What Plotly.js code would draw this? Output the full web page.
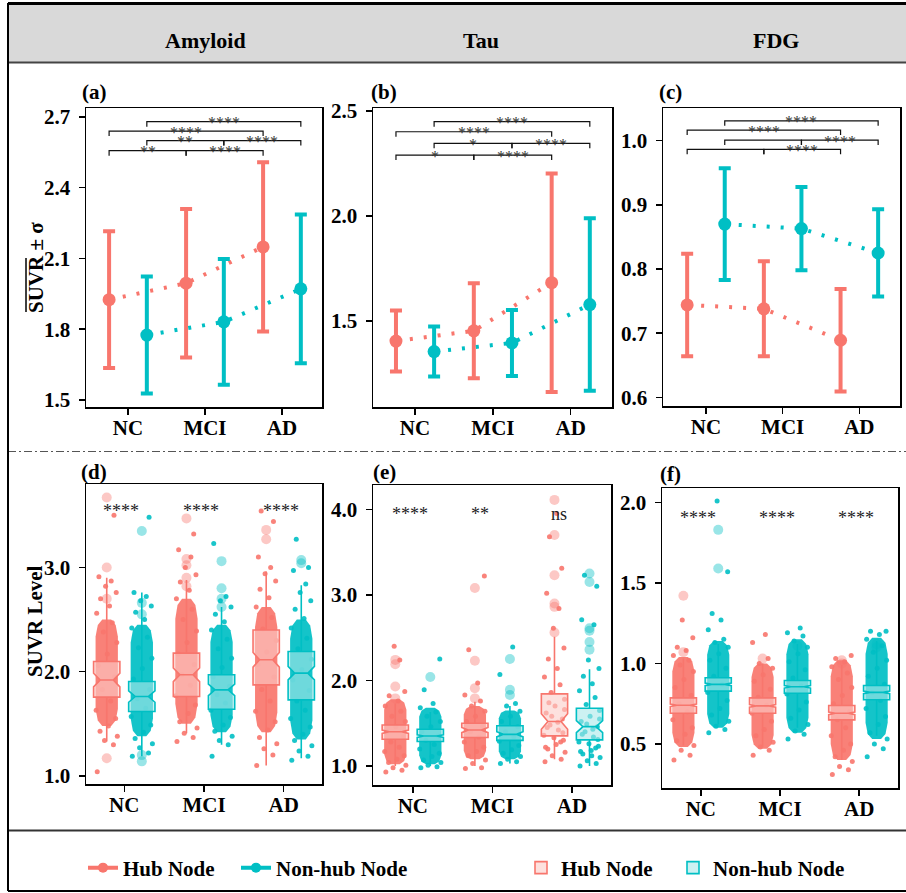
<!DOCTYPE html>
<html><head><meta charset="utf-8">
<script src="https://cdn.plot.ly/plotly-3.0.1.min.js"></script>
<style>html,body{margin:0;padding:0;background:#fff}</style>
</head><body><div id="chart" style="width:906px;height:893px"></div>
<script>
// ---------------- DATA ----------------
const categories = ['NC', 'MCI', 'AD'];
const nodeNames = ['Hub Node', 'Non-hub Node'];

// (a)-(c): mean SUVR and SD
const amyloidMeanHub = [1.925, 1.995, 2.149];
const amyloidSdHub   = [0.290, 0.315, 0.359];
const amyloidMeanNon = [1.775, 1.831, 1.971];
const amyloidSdNon   = [0.248, 0.267, 0.315];
const tauMeanHub = [1.404, 1.453, 1.682];
const tauSdHub   = [0.145, 0.226, 0.520];
const tauMeanNon = [1.354, 1.395, 1.578];
const tauSdNon   = [0.119, 0.157, 0.411];
const fdgMeanHub = [0.744, 0.738, 0.689];
const fdgSdHub   = [0.080, 0.074, 0.080];
const fdgMeanNon = [0.870, 0.863, 0.825];
const fdgSdNon   = [0.087, 0.065, 0.068];

// pairwise comparison brackets (category indices, node 0 = hub, 1 = non-hub)
const bracketCatFrom = [0, 0, 0, 1, 0, 1];
const bracketCatTo   = [2, 2, 1, 2, 1, 2];
const bracketNode    = [1, 0, 1, 1, 0, 0];
const amyloidBracketY = [2.680, 2.640, 2.600, 2.600, 2.557, 2.557];
const amyloidBracketLabel = ['****', '****', '**', '****', '**', '****'];
const tauBracketY = [2.449, 2.401, 2.346, 2.346, 2.290, 2.290];
const tauBracketLabel = ['****', '****', '*', '****', '*', '****'];
const fdgBracketY = [1.031, 1.0166, 1.001, 1.001, 0.9866, 0.9866];
const fdgBracketLabel = ['****', '****', '', '****', '', '****'];

// tick values
const amyloidTicks = [1.5, 1.8, 2.1, 2.4, 2.7];
const tauTicks = [1.5, 2.0, 2.5];
const fdgTicks = [0.6, 0.7, 0.8, 0.9, 1.0];
const amyloidLevelTicks = [1.0, 2.0, 3.0];
const tauLevelTicks = [1.0, 2.0, 3.0, 4.0];
const fdgLevelTicks = [0.5, 1.0, 1.5, 2.0];

// (d) Amyloid box statistics (NC, MCI, AD)
const amyHubQ1 = [1.756, 1.762, 1.874];
const amyHubMedian = [1.920, 1.970, 2.114];
const amyHubQ3 = [2.098, 2.178, 2.400];
const amyHubLower = [1.330, 1.410, 1.100];
const amyHubUpper = [2.900, 2.880, 2.960];
const amyHubNotch = [0.065, 0.065, 0.070];
const amyNonQ1 = [1.618, 1.640, 1.730];
const amyNonMedian = [1.762, 1.826, 1.986];
const amyNonQ3 = [1.906, 1.970, 2.194];
const amyNonLower = [1.190, 1.300, 1.170];
const amyNonUpper = [2.760, 2.620, 2.830];
const amyNonNotch = [0.055, 0.055, 0.065];
const amyHubDenseLo = [1.48, 1.50, 1.42];
const amyHubDenseHi = [2.50, 2.70, 2.62];
const amyNonDenseLo = [1.38, 1.42, 1.35];
const amyNonDenseHi = [2.45, 2.45, 2.50];
const amyHubPtsNC  = [1.04, 1.30, 1.34, 1.38, 1.43, 1.48, 1.55, 1.63, 1.72, 1.83, 1.95, 2.06, 2.17, 2.28, 2.38, 2.47, 2.56, 2.63, 2.70, 2.76, 2.82, 2.87, 2.91, 3.50];
const amyHubPtsMCI = [1.33, 1.37, 1.41, 1.46, 1.52, 1.60, 1.68, 1.77, 1.87, 1.97, 2.07, 2.17, 2.28, 2.39, 2.50, 2.60, 2.70, 2.78, 2.86, 2.93, 3.00, 3.10, 3.17, 3.32];
const amyHubPtsAD  = [1.10, 1.20, 1.26, 1.31, 1.37, 1.44, 1.52, 1.62, 1.72, 1.83, 1.95, 2.07, 2.19, 2.30, 2.41, 2.52, 2.62, 2.71, 2.79, 2.87, 2.94, 3.00, 3.10, 3.44, 3.54];
const amyNonPtsNC  = [1.19, 1.22, 1.27, 1.31, 1.36, 1.42, 1.49, 1.57, 1.65, 1.74, 1.83, 1.93, 2.03, 2.13, 2.23, 2.33, 2.42, 2.50, 2.57, 2.63, 2.68, 2.72, 2.76, 3.48];
const amyNonPtsMCI = [1.19, 1.30, 1.34, 1.38, 1.43, 1.49, 1.56, 1.63, 1.70, 1.78, 1.86, 1.95, 2.04, 2.13, 2.22, 2.31, 2.40, 2.48, 2.55, 2.62, 2.68, 2.72, 3.23];
const amyNonPtsAD  = [1.15, 1.19, 1.24, 1.29, 1.34, 1.40, 1.47, 1.55, 1.63, 1.72, 1.82, 1.92, 2.02, 2.12, 2.22, 2.32, 2.42, 2.51, 2.60, 2.68, 2.76, 2.84, 2.97, 3.00, 3.27];
const amyHubOutNC  = [3.67, 3.00, 2.70, 1.17];
const amyHubOutMCI = [3.47, 3.08, 3.02, 2.90, 2.82];
const amyHubOutAD  = [3.36, 3.27];
const amyNonOutNC  = [3.35, 2.66, 2.55, 1.20, 1.14];
const amyNonOutMCI = [3.06, 2.80, 2.70, 2.62];
const amyNonOutAD  = [3.07, 3.04];
const amyTestY = [3.54, 3.54, 3.54];
const amyTestLabel = ['****', '****', '****'];

// (e) Tau box statistics
const tauHubQ1 = [1.313, 1.333, 1.352];
const tauHubMedian = [1.400, 1.420, 1.520];
const tauHubQ3 = [1.480, 1.500, 1.843];
const tauHubLower = [1.000, 1.000, 1.080];
const tauHubUpper = [1.730, 1.750, 2.510];
const tauHubNotch = [0.020, 0.030, 0.090];
const tauNonQ1 = [1.286, 1.300, 1.305];
const tauNonMedian = [1.350, 1.370, 1.460];
const tauNonQ3 = [1.430, 1.470, 1.675];
const tauNonLower = [1.000, 1.030, 1.000];
const tauNonUpper = [1.630, 1.700, 2.130];
const tauNonNotch = [0.015, 0.030, 0.070];
const tauHubDenseLo = [1.02, 1.08, null];
const tauHubDenseHi = [1.78, 1.70, null];
const tauNonDenseLo = [1.02, 1.08, null];
const tauNonDenseHi = [1.68, 1.65, null];
const tauHubPtsNC  = [0.93, 0.95, 0.98, 1.01, 1.04, 1.08, 1.12, 1.17, 1.22, 1.28, 1.34, 1.40, 1.46, 1.52, 1.58, 1.64, 1.70, 1.76, 1.82, 1.87, 2.40, 2.24];
const tauHubPtsMCI = [0.97, 0.98, 1.03, 1.07, 1.12, 1.17, 1.22, 1.28, 1.34, 1.40, 1.46, 1.52, 1.58, 1.64, 1.70, 1.76, 1.83, 1.97, 2.36, 3.22];
const tauHubPtsAD  = [1.05, 1.08, 1.12, 1.16, 1.20, 1.25, 1.30, 1.36, 1.42, 1.48, 1.55, 1.62, 1.70, 1.78, 1.86, 1.95, 2.04, 2.14, 2.25, 2.38, 2.61, 2.84, 3.02, 3.31, 3.68, 3.95, 1.22, 1.28, 1.33, 1.39, 1.45, 1.51, 1.58, 1.66, 1.74];
const tauNonPtsNC  = [0.98, 0.99, 1.01, 1.04, 1.07, 1.11, 1.15, 1.20, 1.25, 1.30, 1.35, 1.40, 1.46, 1.52, 1.58, 1.63, 1.68, 1.73, 1.89, 2.25];
const tauNonPtsMCI = [1.03, 1.05, 1.08, 1.11, 1.15, 1.19, 1.24, 1.29, 1.34, 1.40, 1.46, 1.52, 1.58, 1.64, 1.70, 1.73, 2.07, 2.39];
const tauNonPtsAD  = [1.00, 1.03, 1.06, 1.10, 1.14, 1.18, 1.23, 1.28, 1.34, 1.40, 1.46, 1.52, 1.58, 1.65, 1.72, 1.80, 1.88, 1.96, 2.05, 2.14, 2.24, 2.65, 2.71, 3.10, 3.23, 1.12, 1.17, 1.21, 1.26, 1.31, 1.37, 1.43, 1.49, 1.55];
const tauHubOutNC  = [2.24, 2.19, 1.93, 1.79];
const tauHubOutMCI = [3.08, 2.23, 1.91, 1.79];
const tauHubOutAD  = [4.11, 3.70, 3.23, 2.90, 2.86, 2.56];
const tauNonOutNC  = [2.04];
const tauNonOutMCI = [2.25, 1.89, 1.83];
const tauNonOutAD  = [3.25, 3.15, 2.61, 2.58, 2.45, 2.36];
const tauTestY = [3.95, 3.95, 3.95];
const tauTestLabel = ['****', '**', 'ns'];

// (f) FDG box statistics
const fdgHubQ1 = [0.690, 0.690, 0.649];
const fdgHubMedian = [0.740, 0.736, 0.690];
const fdgHubQ3 = [0.786, 0.786, 0.739];
const fdgHubLower = [0.490, 0.480, 0.400];
const fdgHubUpper = [1.030, 1.000, 0.990];
const fdgHubNotch = [0.008, 0.008, 0.008];
const fdgNonQ1 = [0.828, 0.815, 0.774];
const fdgNonMedian = [0.870, 0.855, 0.820];
const fdgNonQ3 = [0.911, 0.894, 0.863];
const fdgNonLower = [0.620, 0.600, 0.550];
const fdgNonUpper = [1.120, 1.120, 1.140];
const fdgNonNotch = [0.008, 0.008, 0.008];
const fdgHubDenseLo = [0.48, 0.47, 0.40];
const fdgHubDenseHi = [1.04, 1.00, 1.02];
const fdgNonDenseLo = [0.60, 0.57, 0.53];
const fdgNonDenseHi = [1.14, 1.15, 1.16];
const fdgHubPtsNC  = [0.40, 0.43, 0.46, 0.49, 0.52, 0.56, 0.60, 0.65, 0.70, 0.75, 0.80, 0.85, 0.90, 0.95, 0.99, 1.02, 1.05, 1.08, 1.10, 1.16, 1.27];
const fdgHubPtsMCI = [0.43, 0.46, 0.48, 0.51, 0.55, 0.59, 0.64, 0.69, 0.74, 0.79, 0.84, 0.89, 0.93, 0.97, 1.00, 1.03, 1.13, 1.18];
const fdgHubPtsAD  = [0.31, 0.34, 0.36, 0.39, 0.42, 0.46, 0.50, 0.55, 0.60, 0.65, 0.70, 0.75, 0.80, 0.85, 0.90, 0.94, 0.98, 1.01, 1.03, 1.05];
const fdgNonPtsNC  = [0.57, 0.59, 0.61, 0.64, 0.68, 0.72, 0.77, 0.82, 0.87, 0.92, 0.97, 1.02, 1.06, 1.10, 1.13, 1.15, 1.21, 1.27, 1.31, 1.57, 2.01];
const fdgNonPtsMCI = [0.53, 0.56, 0.58, 0.62, 0.66, 0.71, 0.76, 0.81, 0.86, 0.91, 0.96, 1.01, 1.06, 1.10, 1.14, 1.17, 1.19, 1.22];
const fdgNonPtsAD  = [0.42, 0.47, 0.50, 0.53, 0.57, 0.62, 0.67, 0.72, 0.77, 0.82, 0.87, 0.92, 0.97, 1.02, 1.07, 1.11, 1.15, 1.18, 1.20, 1.20];
const fdgHubOutNC  = [1.42, 1.07];
const fdgHubOutMCI = [1.03];
const fdgHubOutAD  = [1.02, 1.00];
const fdgNonOutNC  = [1.83, 1.59];
const fdgNonOutMCI = [1.11];
const fdgNonOutAD  = [1.10, 1.12];
const fdgTestY = [1.903, 1.903, 1.903];
const fdgTestLabel = ['****', '****', '****'];

// ---------------- LAYOUT / STYLE ----------------
const W = 906, H = 893;
const COLORS = ['#F8766D', '#00BFC4'];
const BOXFILL = ['rgba(252,205,200,0.6)', 'rgba(170,232,234,0.6)'];
const FONT = 'Liberation Serif';
const jitterPattern = [-0.85, 0.6, -0.2, 0.95, -0.6, 0.15, 0.8, -0.95, 0.35, -0.4, 0.7, -0.75, 0.05, 0.9, -0.3, 0.5, -0.9, 0.25, -0.55, 0.85, -0.1, 0.4, -0.7, 0.65, -0.45, 0.2, -0.8, 0.55, -0.05, 0.75, -0.65, 0.3, -0.25, 0.9, -0.5, 0.1];

const panels = [
  {id: '',  px: [86, 108, 322, 407],  xr: [0.455, 3.52], yr: [1.47, 2.738],  ticks: amyloidTicks},
  {id: '2', px: [373, 108, 612, 407], xr: [0.46, 3.53],  yr: [1.09, 2.514],  ticks: tauTicks},
  {id: '3', px: [663, 108, 900, 406], xr: [0.44, 3.53],  yr: [0.5865, 1.051], ticks: fdgTicks},
  {id: '4', px: [86, 484, 322, 784],  xr: [0.52, 3.48],  yr: [0.923, 3.80],  ticks: amyloidLevelTicks},
  {id: '5', px: [373, 485, 611, 785], xr: [0.50, 3.49],  yr: [0.778, 4.284], ticks: tauLevelTicks},
  {id: '6', px: [662, 488, 898, 788], xr: [0.51, 3.49],  yr: [0.226, 2.09],  ticks: fdgLevelTicks}
];

const traces = [];
const annotations = [];
const layout = {
  width: W, height: H,
  margin: {l: 0, r: 0, t: 0, b: 0, pad: 0},
  paper_bgcolor: '#fff', plot_bgcolor: 'rgba(0,0,0,0)',
  font: {family: FONT, color: '#000'},
  showlegend: true,
  hovermode: false
};

const axisCommon = {
  showline: true, mirror: true, linecolor: '#000', linewidth: 1.5,
  ticks: 'outside', ticklen: 6, tickwidth: 1.5, tickcolor: '#000',
  showgrid: false, zeroline: false, fixedrange: true,
  tickfont: {family: FONT, size: 21, color: '#000', weight: 'bold'}
};

panels.forEach((p, i) => {
  const xd = [p.px[0] / W, p.px[2] / W];
  const yd = [1 - p.px[3] / H, 1 - p.px[1] / H];
  layout['xaxis' + p.id] = Object.assign({}, axisCommon, {
    domain: xd, range: p.xr, anchor: 'y' + p.id,
    tickmode: 'array', tickvals: [1, 2, 3], ticktext: categories, ticklabelstandoff: -5
  });
  layout['yaxis' + p.id] = Object.assign({}, axisCommon, {
    domain: yd, range: p.yr, anchor: 'x' + p.id,
    tickmode: 'array', tickvals: p.ticks, ticktext: p.ticks.map(v => v.toFixed(1)), ticklabelstandoff: 4
  });
});

// overlay axes for boxes in bottom row
[['7', 3], ['8', 4], ['9', 5]].forEach(([oid, pi]) => {
  const p = panels[pi];
  layout['xaxis' + oid] = {overlaying: 'x' + p.id, range: p.xr, visible: false, fixedrange: true, anchor: 'y' + oid};
  layout['yaxis' + oid] = {overlaying: 'y' + p.id, range: p.yr, visible: false, fixedrange: true, anchor: 'x' + oid};
});

// ---------- Top row ----------
function topPanel(p, means, sds, brY, brLabel) {
  const dodge = 0.245;
  const xa = 'x' + p.id, ya = 'y' + p.id;
  [0, 1].forEach(n => {
    const pos = [1, 2, 3].map(c => c + (n ? dodge : -dodge));
    traces.push({type: 'scatter', mode: 'lines', x: pos, y: means[n], xaxis: xa, yaxis: ya,
      line: {color: COLORS[n], width: 4, dash: '3px,11px'}, showlegend: false, hoverinfo: 'skip'});
    traces.push({type: 'scatter', mode: 'markers', x: pos, y: means[n], xaxis: xa, yaxis: ya,
      marker: {color: COLORS[n], size: 13},
      error_y: {type: 'data', array: sds[n], symmetric: true, color: COLORS[n], thickness: 4, width: 6},
      showlegend: false, hoverinfo: 'skip'});
  });
  const pxPerUnit = (p.px[3] - p.px[1]) / (p.yr[1] - p.yr[0]);
  const t = 5 / pxPerUnit;
  brY.forEach((y, i) => {
    const off = bracketNode[i] ? dodge : -dodge;
    const x1 = bracketCatFrom[i] + 1 + off, x2 = bracketCatTo[i] + 1 + off;
    traces.push({type: 'scatter', mode: 'lines', x: [x1, x1, x2, x2], y: [y - t, y, y, y - t],
      xaxis: xa, yaxis: ya, line: {color: '#111', width: 1.2}, showlegend: false, hoverinfo: 'skip'});
    if (brLabel[i]) annotations.push({xref: xa, yref: ya, x: (x1 + x2) / 2, y: y, text: brLabel[i],
      showarrow: false, xanchor: 'center', yanchor: 'middle', yshift: -1,
      font: {family: FONT, size: 16, color: '#333'}});
  });
}
topPanel(panels[0], [amyloidMeanHub, amyloidMeanNon], [amyloidSdHub, amyloidSdNon], amyloidBracketY, amyloidBracketLabel);
topPanel(panels[1], [tauMeanHub, tauMeanNon], [tauSdHub, tauSdNon], tauBracketY, tauBracketLabel);
topPanel(panels[2], [fdgMeanHub, fdgMeanNon], [fdgSdHub, fdgSdNon], fdgBracketY, fdgBracketLabel);

// ---------- Bottom row ----------
function bottomPanel(p, oid, stats, dense, pts, outs, testY, testLabel, legendOn) {
  const dodge = 0.22, jw = 0.14, bw = 0.33;
  const xa = 'x' + p.id, ya = 'y' + p.id, xo = 'x' + oid, yo = 'y' + oid;
  const fr = [0, 0.05, 0.16, 0.84, 0.95, 1], wf = [0.4, 0.8, 1, 1, 0.8, 0.4];
  [0, 1].forEach(n => {
    const pos = [1, 2, 3].map(c => c + (n ? dodge : -dodge));
    [0, 1, 2].forEach(c => {
      const lo = dense[n][0][c], hi = dense[n][1][c];
      if (lo === null) return;
      const xs = [], ys = [];
      fr.forEach((f, k) => { xs.push(pos[c] - wf[k] * jw); ys.push(lo + f * (hi - lo)); });
      for (let k = fr.length - 1; k >= 0; k--) { xs.push(pos[c] + wf[k] * jw); ys.push(lo + fr[k] * (hi - lo)); }
      traces.push({type: 'scatter', mode: 'lines', x: xs, y: ys, fill: 'toself', fillcolor: COLORS[n],
        line: {width: 0, color: COLORS[n]}, xaxis: xa, yaxis: ya, showlegend: false, hoverinfo: 'skip', opacity: 0.92});
    });
    const jx = [], jy = [];
    [0, 1, 2].forEach(c => {
      pts[n][c].forEach((v, k) => { jx.push(pos[c] + jitterPattern[k % jitterPattern.length] * jw); jy.push(v); });
    });
    traces.push({type: 'scatter', mode: 'markers', x: jx, y: jy, xaxis: xa, yaxis: ya,
      marker: {color: COLORS[n], size: 5, opacity: 0.9}, showlegend: false, hoverinfo: 'skip'});
    const s = stats[n];
    traces.push({type: 'box', name: nodeNames[n], x: pos, q1: s[0], median: s[1], q3: s[2],
      lowerfence: s[3], upperfence: s[4], notchspan: s[5], notched: true, notchwidth: 0.25,
      width: bw, whiskerwidth: 0, boxpoints: false, fillcolor: BOXFILL[n],
      line: {color: COLORS[n], width: 1.6}, xaxis: xo, yaxis: yo,
      showlegend: legendOn, legend: n ? 'legend4' : 'legend3', hoverinfo: 'skip'});
    const ox = [], oy = [];
    [0, 1, 2].forEach(c => outs[n][c].forEach(v => { ox.push(pos[c]); oy.push(v); }));
    traces.push({type: 'scatter', mode: 'markers', x: ox, y: oy, xaxis: xo, yaxis: yo,
      marker: {color: COLORS[n], size: 10, opacity: 0.4}, showlegend: false, hoverinfo: 'skip'});
  });
  testY.forEach((y, c) => annotations.push({xref: xa, yref: ya, x: c + 1 - 0.29, y: y, text: testLabel[c],
    showarrow: false, xanchor: 'left', yanchor: 'middle', font: {family: FONT, size: 18, color: '#222'}}));
}

bottomPanel(panels[3], '7',
  [[amyHubQ1, amyHubMedian, amyHubQ3, amyHubLower, amyHubUpper, amyHubNotch],
   [amyNonQ1, amyNonMedian, amyNonQ3, amyNonLower, amyNonUpper, amyNonNotch]],
  [[amyHubDenseLo, amyHubDenseHi], [amyNonDenseLo, amyNonDenseHi]],
  [[amyHubPtsNC, amyHubPtsMCI, amyHubPtsAD], [amyNonPtsNC, amyNonPtsMCI, amyNonPtsAD]],
  [[amyHubOutNC, amyHubOutMCI, amyHubOutAD], [amyNonOutNC, amyNonOutMCI, amyNonOutAD]],
  amyTestY, amyTestLabel, true);
bottomPanel(panels[4], '8',
  [[tauHubQ1, tauHubMedian, tauHubQ3, tauHubLower, tauHubUpper, tauHubNotch],
   [tauNonQ1, tauNonMedian, tauNonQ3, tauNonLower, tauNonUpper, tauNonNotch]],
  [[tauHubDenseLo, tauHubDenseHi], [tauNonDenseLo, tauNonDenseHi]],
  [[tauHubPtsNC, tauHubPtsMCI, tauHubPtsAD], [tauNonPtsNC, tauNonPtsMCI, tauNonPtsAD]],
  [[tauHubOutNC, tauHubOutMCI, tauHubOutAD], [tauNonOutNC, tauNonOutMCI, tauNonOutAD]],
  tauTestY, tauTestLabel, false);
bottomPanel(panels[5], '9',
  [[fdgHubQ1, fdgHubMedian, fdgHubQ3, fdgHubLower, fdgHubUpper, fdgHubNotch],
   [fdgNonQ1, fdgNonMedian, fdgNonQ3, fdgNonLower, fdgNonUpper, fdgNonNotch]],
  [[fdgHubDenseLo, fdgHubDenseHi], [fdgNonDenseLo, fdgNonDenseHi]],
  [[fdgHubPtsNC, fdgHubPtsMCI, fdgHubPtsAD], [fdgNonPtsNC, fdgNonPtsMCI, fdgNonPtsAD]],
  [[fdgHubOutNC, fdgHubOutMCI, fdgHubOutAD], [fdgNonOutNC, fdgNonOutMCI, fdgNonOutAD]],
  fdgTestY, fdgTestLabel, false);

// legend entries for mean ± SD (line + point key)
[0, 1].forEach(n => traces.push({type: 'scatter', mode: 'lines+markers', name: nodeNames[n], x: [null], y: [null],
  xaxis: 'x', yaxis: 'y', line: {color: COLORS[n], width: 4}, marker: {color: COLORS[n], size: 10},
  legend: n ? 'legend2' : 'legend', showlegend: true, hoverinfo: 'skip'}));

const legFont = {family: FONT, size: 21, color: '#000', weight: 'bold'};
const legBase = {orientation: 'h', xanchor: 'left', yanchor: 'middle', y: 1 - 868 / H,
  bgcolor: 'rgba(0,0,0,0)', borderwidth: 0, font: legFont, itemwidth: 30};
layout.legend  = Object.assign({}, legBase, {x: 83 / W});
layout.legend2 = Object.assign({}, legBase, {x: 236 / W});
layout.legend3 = Object.assign({}, legBase, {x: 521 / W});
layout.legend4 = Object.assign({}, legBase, {x: 673 / W});

// y-axis titles (as rotated text) with overline over SUVR in (a)
const yTitles = [['SUVR ± σ', 36, 268], ['SUVR Level', 35, 621]];
yTitles.forEach(([t, x, y]) => annotations.push({xref: 'paper', yref: 'paper', x: x / W, y: 1 - y / H,
  text: t, textangle: -90, showarrow: false, xanchor: 'center', yanchor: 'middle',
  font: {family: FONT, size: 21, weight: 'bold', color: '#000'}}));

// headers & panel tags
const headers = [['Amyloid', 205], ['Tau', 481], ['FDG', 776]];
headers.forEach(([t, x]) => annotations.push({xref: 'paper', yref: 'paper', x: x / W, y: 1 - 40 / H,
  text: t, showarrow: false, xanchor: 'center', yanchor: 'middle', font: {family: FONT, size: 22, weight: 'bold', color: '#000'}}));
const tags = [['(a)', 94, 92], ['(b)', 384, 92], ['(c)', 670, 92], ['(d)', 94, 472], ['(e)', 384, 472], ['(f)', 670, 474]];
tags.forEach(([t, x, y]) => annotations.push({xref: 'paper', yref: 'paper', x: x / W, y: 1 - y / H,
  text: t, showarrow: false, xanchor: 'center', yanchor: 'middle', font: {family: FONT, size: 21, weight: 'bold', color: '#000'}}));
layout.annotations = annotations;

// frame and separators
const px2y = y => 1 - y / H;
layout.shapes = [
  {type: 'rect', xref: 'paper', yref: 'paper', x0: 8 / W, x1: 1, y0: px2y(62), y1: px2y(4), fillcolor: '#D9D9D9', line: {width: 0}, layer: 'below'},
  {type: 'line', xref: 'paper', yref: 'paper', x0: 8 / W, x1: 1, y0: px2y(3.5), y1: px2y(3.5), line: {color: '#000', width: 3}},
  {type: 'line', xref: 'paper', yref: 'paper', x0: 8 / W, x1: 1, y0: px2y(62.5), y1: px2y(62.5), line: {color: '#444', width: 2}},
  {type: 'line', xref: 'paper', yref: 'paper', x0: 8 / W, x1: 1, y0: px2y(451.5), y1: px2y(451.5), line: {color: '#555', width: 1, dash: '8px,3px,2px,3px'}},
  {type: 'line', xref: 'paper', yref: 'paper', x0: 8 / W, x1: 1, y0: px2y(830.5), y1: px2y(830.5), line: {color: '#333', width: 2}},
  {type: 'line', xref: 'paper', yref: 'paper', x0: 8 / W, x1: 1, y0: px2y(891), y1: px2y(891), line: {color: '#000', width: 2}},
  {type: 'line', xref: 'paper', yref: 'paper', x0: 8 / W, x1: 8 / W, y0: px2y(3), y1: px2y(891), line: {color: '#000', width: 2}},
  // overline over "SUVR" in the (a) axis title
  {type: 'line', xref: 'paper', yref: 'paper', x0: 26 / W, x1: 26 / W, y0: px2y(312), y1: px2y(258), line: {color: '#000', width: 1.5}}
];

Plotly.newPlot('chart', traces, layout, {displayModeBar: false, staticPlot: true});
</script>
</body></html>
